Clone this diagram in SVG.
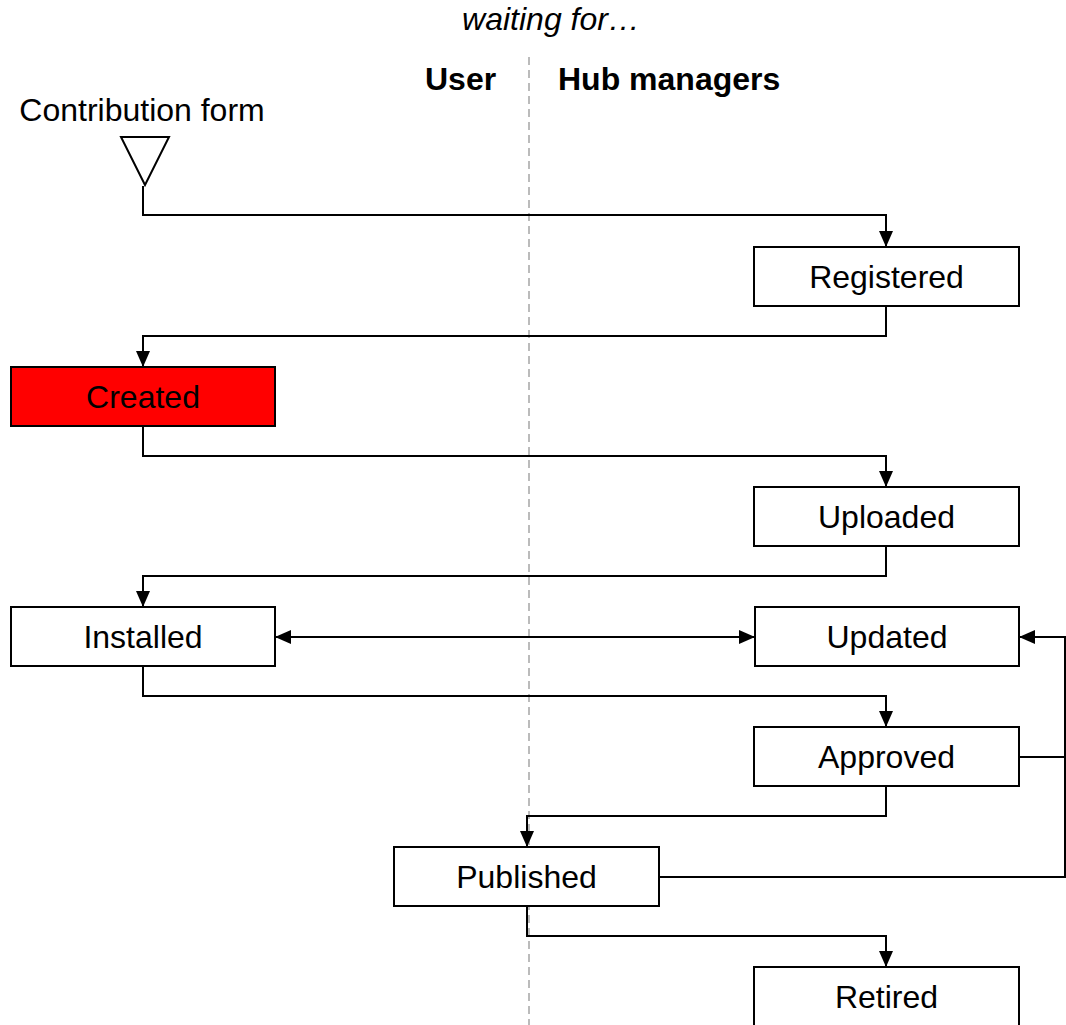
<svg xmlns="http://www.w3.org/2000/svg" width="1066" height="1025" viewBox="0 0 1066 1025">
<style>
text{font-family:"Liberation Sans",Arial,sans-serif;font-size:32px;fill:#000}
.box{fill:#fff;stroke:#000;stroke-width:2}
.red{fill:#ff0000}
.lbl{text-anchor:middle}
.conn{fill:none;stroke:#000;stroke-width:2}
.lane{stroke:#bbb;stroke-width:2;stroke-dasharray:8 5}
</style>
<defs>
<marker id="arr" markerUnits="userSpaceOnUse" markerWidth="16" markerHeight="14" refX="16" refY="7" orient="auto-start-reverse">
<path d="M0,0 L16,7 L0,14 z" fill="#000"/>
</marker>
</defs>
<rect width="1066" height="1025" fill="#fff"/>
<g id="header">
<text x="551" y="30" class="lbl" font-style="italic" font-size="31">waiting for…</text>
<text x="425" y="90" font-weight="bold">User</text>
<text x="558" y="90" font-weight="bold">Hub managers</text>
<line class="lane" x1="529" y1="57" x2="529" y2="1025"/>
</g>
<g id="connectors">
<path class="conn" d="M143,186 V215 H886 V247" marker-end="url(#arr)"/>
<path class="conn" d="M886,306 V336 H143 V367" marker-end="url(#arr)"/>
<path class="conn" d="M143,426 V456 H886 V487" marker-end="url(#arr)"/>
<path class="conn" d="M886,546 V576 H143 V607" marker-end="url(#arr)"/>
<path class="conn" d="M275,637 H755" marker-start="url(#arr)" marker-end="url(#arr)"/>
<path class="conn" d="M143,666 V696 H886 V727" marker-end="url(#arr)"/>
<path class="conn" d="M886,786 V816 H527 V847" marker-end="url(#arr)"/>
<path class="conn" d="M527,906 V936 H886 V967" marker-end="url(#arr)"/>
<path class="conn" d="M1019,757 H1065"/>
<path class="conn" d="M659,877 H1065 V637 H1019" marker-end="url(#arr)"/>
</g>
<g id="contribution-form">
<text x="142" y="121" class="lbl">Contribution form</text>
<path d="M121,137 H169 L145,185 Z" fill="#fff" stroke="#000" stroke-width="2"/>
</g>
<g id="registered"><rect class="box" x="754" y="247" width="265" height="59"/><text x="886.5" y="288" class="lbl">Registered</text></g>
<g id="created"><rect class="box red" x="11" y="367" width="264" height="59"/><text x="143" y="408" class="lbl">Created</text></g>
<g id="uploaded"><rect class="box" x="754" y="487" width="265" height="59"/><text x="886.5" y="528" class="lbl">Uploaded</text></g>
<g id="installed"><rect class="box" x="11" y="607" width="264" height="59"/><text x="143" y="648" class="lbl">Installed</text></g>
<g id="updated"><rect class="box" x="755" y="607" width="264" height="59"/><text x="887" y="648" class="lbl">Updated</text></g>
<g id="approved"><rect class="box" x="754" y="727" width="265" height="59"/><text x="886.5" y="768" class="lbl">Approved</text></g>
<g id="published"><rect class="box" x="394" y="847" width="265" height="59"/><text x="526.5" y="888" class="lbl">Published</text></g>
<g id="retired"><rect class="box" x="754" y="967" width="265" height="59"/><text x="886.5" y="1008" class="lbl">Retired</text></g>
</svg>
